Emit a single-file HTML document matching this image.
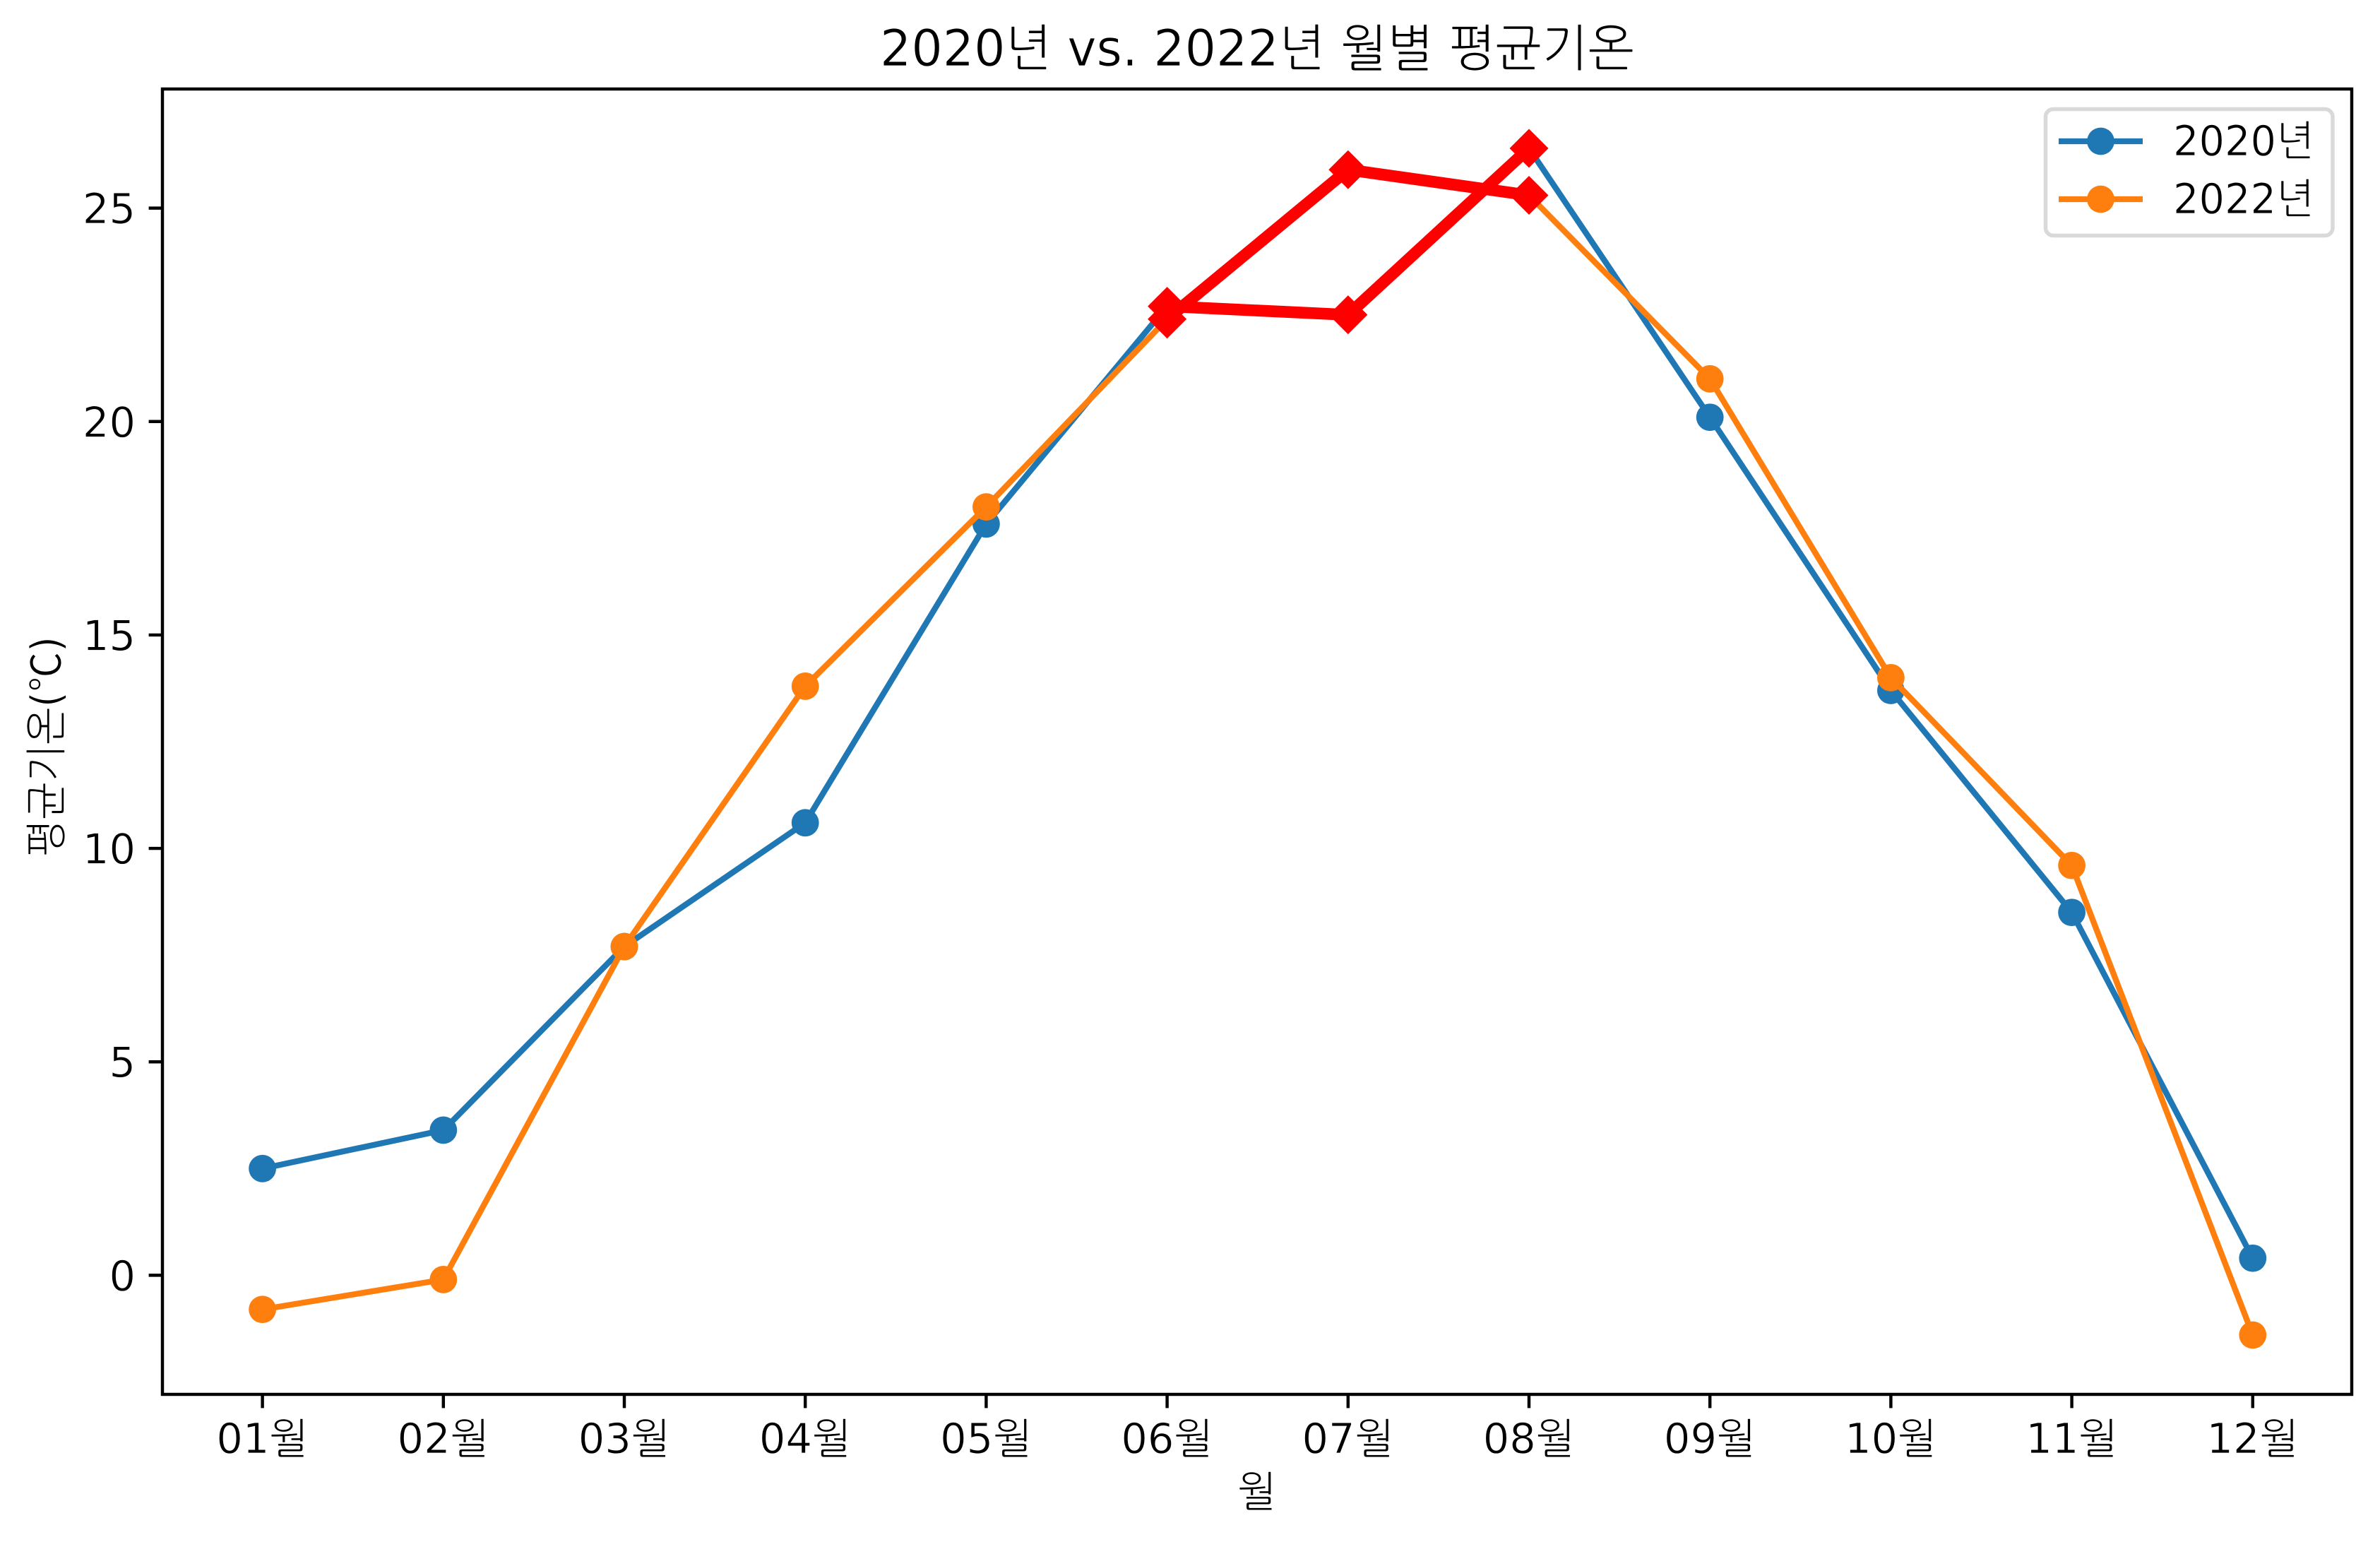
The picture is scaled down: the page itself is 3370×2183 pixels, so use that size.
<!DOCTYPE html>
<html lang="ko">
<head>
<meta charset="utf-8">
<title>2020년 vs. 2022년 월별 평균기온</title>
<style>
  html, body { margin: 0; padding: 0; background: #fff; }
  svg { display: block; }
  text { font-family: "DejaVu Sans", "NanumGothic", "Noto Sans CJK KR", sans-serif; fill: #000; stroke: #fff; stroke-width: 0.8px; }
</style>
</head>
<body>
<svg id="chart" xmlns="http://www.w3.org/2000/svg" width="3370" height="2183" viewBox="0 0 3370 2183">
  <rect x="0" y="0" width="3370" height="2183" fill="#fff"/>
  <g id="marks"></g>
  <rect x="230" y="126" width="3100" height="1848" fill="none" stroke="#000" stroke-width="4.44"/>
  <g id="x-axis"></g>
  <g id="y-axis"></g>
  <text x="1780" y="93" font-size="71" text-anchor="middle" textLength="1068" lengthAdjust="spacingAndGlyphs">2020년 vs. 2022년 월별 평균기온</text>
  <text x="1780" y="2132" font-size="59" text-anchor="middle">월</text>
  <text transform="translate(86 1057) rotate(-90)" font-size="59" text-anchor="middle" textLength="312" lengthAdjust="spacingAndGlyphs">평균기온(<tspan style="font-family: 'Noto Sans CJK KR', sans-serif">℃</tspan>)</text>
  <g>
    <rect x="2896.5" y="154.5" width="406.5" height="179" rx="11" ry="11" fill="#fff" fill-opacity="0.8" stroke="#d9d9d9" stroke-width="5.5"/>
    <g>
      <line x1="2915" y1="200" x2="3034" y2="200" stroke="#1f77b4" stroke-width="8.33"/>
      <circle cx="2974.5" cy="200" r="19.4" fill="#1f77b4"/>
      <text x="3077" y="220" font-size="59" textLength="200" lengthAdjust="spacingAndGlyphs">2020년</text>
    </g>
    <g>
      <line x1="2915" y1="282" x2="3034" y2="282" stroke="#ff7f0e" stroke-width="8.33"/>
      <circle cx="2974.5" cy="282" r="19.4" fill="#ff7f0e"/>
      <text x="3077" y="302" font-size="59" textLength="200" lengthAdjust="spacingAndGlyphs">2022년</text>
    </g>
  </g>
</svg>
<script>
const months = ['01월','02월','03월','04월','05월','06월','07월','08월','09월','10월','11월','12월'];
const temps2020 = [2.5, 3.4, 7.7, 10.6, 17.6, 22.7, 22.5, 26.4, 20.1, 13.7, 8.5, 0.4];
const temps2022 = [-0.8, -0.1, 7.7, 13.8, 18.0, 22.4, 25.9, 25.3, 21.0, 14.0, 9.6, -1.4];
const highlightMonths = ['06월','07월','08월'];
const yTickValues = [0, 5, 10, 15, 20, 25];

const NS = 'http://www.w3.org/2000/svg';
const plotLeft = 230, plotRight = 3330, plotTop = 126, plotBottom = 1974;
const yMin = -2.79, yMax = 27.79;
const xScale = i => plotLeft + 0.7 + (i + 0.55) * (plotRight - plotLeft) / 12.1;
const yScale = v => plotTop + (yMax - v) * (plotBottom - plotTop) / (yMax - yMin);

function make(tag, attrs, parent) {
  const el = document.createElementNS(NS, tag);
  for (const k in attrs) el.setAttribute(k, attrs[k]);
  parent.appendChild(el);
  return el;
}
const marks = document.getElementById('marks');
const xAxis = document.getElementById('x-axis');
const yAxis = document.getElementById('y-axis');

function drawSeries(values, color, label) {
  const pts = values.map((v, i) => xScale(i) + ',' + yScale(v)).join(' ');
  const line = make('polyline', {points: pts, fill: 'none', stroke: color, 'stroke-width': 8.33, 'stroke-linejoin': 'round', 'stroke-linecap': 'butt'}, marks);
  
  
  values.forEach((v, i) => {
    const dot = make('circle', {cx: xScale(i), cy: yScale(v), r: 19.4, fill: color}, marks);
    
    
  });
}
function drawHighlight(values, label) {
  const idx = highlightMonths.map(m => months.indexOf(m));
  const pts = idx.map(i => xScale(i) + ',' + yScale(values[i])).join(' ');
  const line = make('polyline', {points: pts, fill: 'none', stroke: '#f00', 'stroke-width': 16.67, 'stroke-linejoin': 'round'}, marks);
  
  
  idx.forEach(i => {
    const cx = xScale(i), cy = yScale(values[i]), d = 27.5;
    const diamond = make('polygon', {points: [cx, cy - d, cx + d, cy, cx, cy + d, cx - d, cy].join(' '), fill: '#f00'}, marks);
    
    
  });
}
drawSeries(temps2020, '#1f77b4', '2020');
drawSeries(temps2022, '#ff7f0e', '2022');
drawHighlight(temps2020, '2020');
drawHighlight(temps2022, '2022');

months.forEach((m, i) => {
  const x = xScale(i);
  const tick = make('line', {x1: x, x2: x, y1: plotBottom, y2: plotBottom + 19.4, stroke: '#000', 'stroke-width': 4.44}, xAxis);
  
  
  const label = make('text', {x: x, y: 2057, 'font-size': 59, 'text-anchor': 'middle'}, xAxis);
  label.textContent = m;
  
  
});
yTickValues.forEach(v => {
  const y = yScale(v);
  const tick = make('line', {x1: plotLeft - 19.4, x2: plotLeft, y1: y, y2: y, stroke: '#000', 'stroke-width': 4.44}, yAxis);
  
  
  const label = make('text', {x: 192, y: y + 21.5, 'font-size': 59, 'text-anchor': 'end'}, yAxis);
  label.textContent = String(v);
  
  
});
</script>
</body>
</html>
